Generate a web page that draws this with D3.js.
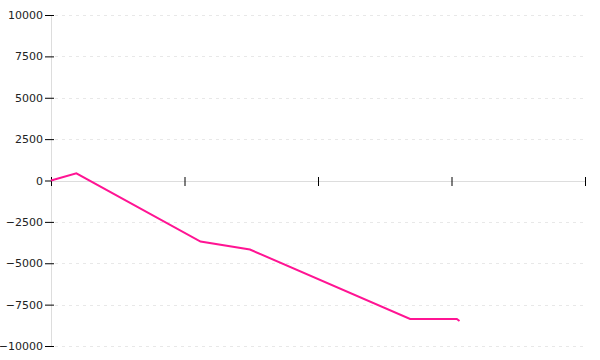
<!DOCTYPE html>
<html>
<head>
<meta charset="utf-8">
<script src="https://cdn.jsdelivr.net/npm/d3@7"></script>
<style>
  body { margin: 0; background: #fff; }
  .y-axis text { font: 11px "DejaVu Sans", Verdana, sans-serif; fill: #222; }
</style>
</head>
<body>
<svg id="chart"></svg>
<script>
var width = 600;
var height = 360;
var margin = {top: 15, right: 15, bottom: 14, left: 51};

// series values (x in unlabeled units, y in value)
var xValues = [0, 1.9, 11.2, 14.9, 26.9, 30.4, 30.6];
var yValues = [0, 435, -3690, -4170, -8370, -8370, -8490];
var yTicks = [-10000, -7500, -5000, -2500, 0, 2500, 5000, 7500, 10000];
var xTicks = [0, 10, 20, 30, 40];

var data = xValues.map((x, i) => ({x: x, y: yValues[i]}));

var svg = d3.select("#chart")
    .attr("width", width)
    .attr("height", height);

var xScale = d3.scaleLinear()
    .domain([0, 40])
    .range([margin.left, width - margin.right]);

var yScale = d3.scaleLinear()
    .domain([-10000, 10000])
    .range([height - margin.bottom, margin.top]);

// dashed grid
svg.append("g")
    .selectAll("line")
    .data(yTicks.filter(d => d !== 0))
    .enter()
    .append("line")
    .attr("x1", margin.left + 4)
    .attr("x2", width - margin.right)
    .attr("y1", d => Math.round(yScale(d)) + 0.5)
    .attr("y2", d => Math.round(yScale(d)) + 0.5)
    .attr("stroke", "#e8e8e8")
    .attr("stroke-dasharray", "3,4");

// y axis
var yAxis = d3.axisLeft(yScale)
    .tickValues(yTicks)
    .tickSize(6)
    .tickPadding(2)
    .tickFormat(d3.format("d"));

var gy = svg.append("g")
    .attr("class", "y-axis")
    .attr("transform", `translate(${margin.left},0)`)
    .call(yAxis);
gy.select(".domain").attr("stroke", "#ddd");
gy.selectAll(".tick line")
    .attr("x1", 3)
    .attr("stroke", "#000");
gy.selectAll(".tick text")
    .text(d => d3.format("d")(d).replace("-", "\u2212"));

// x axis along zero
var xAxis = d3.axisBottom(xScale)
    .tickValues(xTicks)
    .tickSize(5)
    .tickSizeOuter(0)
    .tickFormat("");

var gx = svg.append("g")
    .attr("transform", `translate(0,${Math.round(yScale(0))})`)
    .call(xAxis);
gx.select(".domain").attr("stroke", "#ddd");
gx.selectAll(".tick line")
    .attr("y1", -4)
    .attr("stroke", "#000");

// line
var line = d3.line()
    .x(d => xScale(d.x))
    .y(d => yScale(d.y));

svg.append("path")
    .datum(data)
    .attr("d", line)
    .attr("fill", "none")
    .attr("stroke", "#ff1493")
    .attr("stroke-width", 2);
</script>
</body>
</html>
